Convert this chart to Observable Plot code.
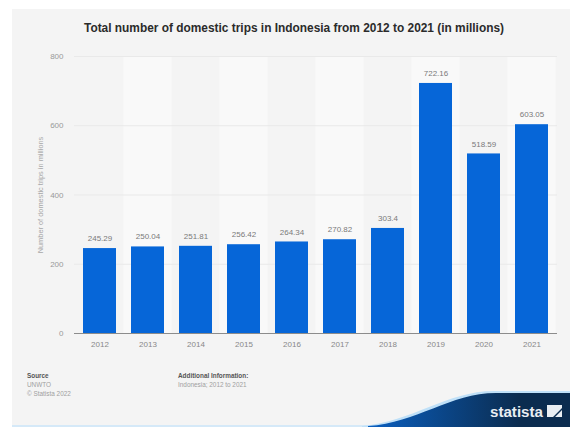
<!DOCTYPE html>
<html>
<head>
<meta charset="utf-8">
<script src="https://cdn.jsdelivr.net/npm/d3@7"></script>
<script src="https://cdn.jsdelivr.net/npm/@observablehq/plot@0.6"></script>
<style>
  html, body { margin: 0; padding: 0; background: #fff; overflow: hidden; }
  body { width: 570px; height: 427px; font-family: "Liberation Sans", Arial, sans-serif; }
  #frame { position: absolute; left: 12px; top: 9px; width: 558px; height: 418px; background: #f4f4f4; overflow: hidden; }
  #title { height: 37px; box-sizing: border-box; padding-top: 13px; padding-left: 72px; font-size: 11.9px; line-height: 12px; font-weight: 700; color: #2b2b2b; white-space: nowrap; }
  #chart svg { display: block; }
  #footer { position: relative; height: 67px; font-size: 6.4px; line-height: 9px; color: #a0a0a0; }
  #footer b { color: #555; font-weight: 700; }
  .note { position: absolute; top: 11px; white-space: nowrap; }
  #wave { position: absolute; left: 0; top: 0; }
</style>
</head>
<body>
<div id="frame">
  <div id="title">Total number of domestic trips in Indonesia from 2012 to 2021 (in millions)</div>
  <div id="chart"></div>
  <div id="footer">
    <svg id="wave" width="558" height="67" viewBox="0 0 558 67">
      <defs>
        <linearGradient id="edge" x1="0" x2="1" y1="0" y2="0">
          <stop offset="0" stop-color="#0a5fc0"/>
          <stop offset="0.75" stop-color="#0b2c4f"/>
        </linearGradient>
      </defs>
      <rect x="0" y="65" width="558" height="2" fill="#d5e9f8"/>
      <path d="M350 66 C 400 62, 435 31, 482 31 L558 31 L558 67 L350 67 Z" fill="#bfe0f8"/>
      <path d="M356 66 C 405 63, 438 33, 484 33 L558 33 L558 67 L356 67 Z" fill="url(#edge)"/>
      <text x="478" y="57" font-family="'Liberation Sans', Arial, sans-serif" font-size="15.5" font-weight="700" fill="#e9eef2" textLength="53" lengthAdjust="spacingAndGlyphs">statista</text>
      <path d="M535 45 H550 V48 L541 57 H535 Z M550 50 V57 H543 Z" fill="#e9eef2"/>
    </svg>
    <div class="note" style="left:15px"><b>Source</b><br>UNWTO<br>© Statista 2022</div>
    <div class="note" style="left:166px"><b>Additional Information:</b><br>Indonesia; 2012 to 2021</div>
  </div>
</div>
<script>
// Domestic trips in Indonesia, millions per year
const years = ["2012", "2013", "2014", "2015", "2016", "2017", "2018", "2019", "2020", "2021"];
const trips = [245.29, 250.04, 251.81, 256.42, 264.34, 270.82, 303.4, 722.16, 518.59, 603.05];
const yTicks = [0, 200, 400, 600, 800];
const yLabel = "Number of domestic trips in millions";

const rows = years.map((year, i) => ({year, value: trips[i]}));
const stripes = years.filter((_, i) => i % 2 === 1);

const plot = Plot.plot({
  width: 558,
  height: 314,
  marginLeft: 62,
  marginRight: 13,
  marginTop: 10,
  marginBottom: 27,
  style: {background: "transparent", fontFamily: "'Liberation Sans', Arial, sans-serif", overflow: "visible"},
  x: {type: "band", domain: years, paddingInner: 0.31, paddingOuter: 0.155, label: null},
  y: {domain: [0, 800], label: null},
  marks: [
    // Lighter column behind every other year
    Plot.barY(stripes, {x: d => d, y1: 0, y2: 800, fill: "#f9f9f9", insetLeft: -7.5, insetRight: -7.5}),
    Plot.gridY(yTicks, {stroke: "#e9e9e9", strokeOpacity: 1, strokeWidth: 1}),
    Plot.barY(rows, {x: "year", y: "value", fill: "#0666d8"}),
    Plot.ruleY([0], {stroke: "#8c8c8c", strokeWidth: 1}),
    Plot.text(rows, {x: "year", y: "value", text: d => String(d.value), dy: -10, fontSize: 8, fill: "#7a7a7a"}),
    Plot.axisX({tickSize: 0, tickPadding: 8, fontSize: 8, color: "#888", label: null}),
    Plot.axisY({ticks: yTicks, tickSize: 0, tickPadding: 11, fontSize: 8, color: "#999", label: null}),
    Plot.text([yLabel], {frameAnchor: "left", dx: -34, rotate: -90, textAnchor: "middle", fontSize: 7.4, fill: "#a8a8a8"})
  ]
});
document.getElementById("chart").append(plot);
</script>
</body>
</html>
